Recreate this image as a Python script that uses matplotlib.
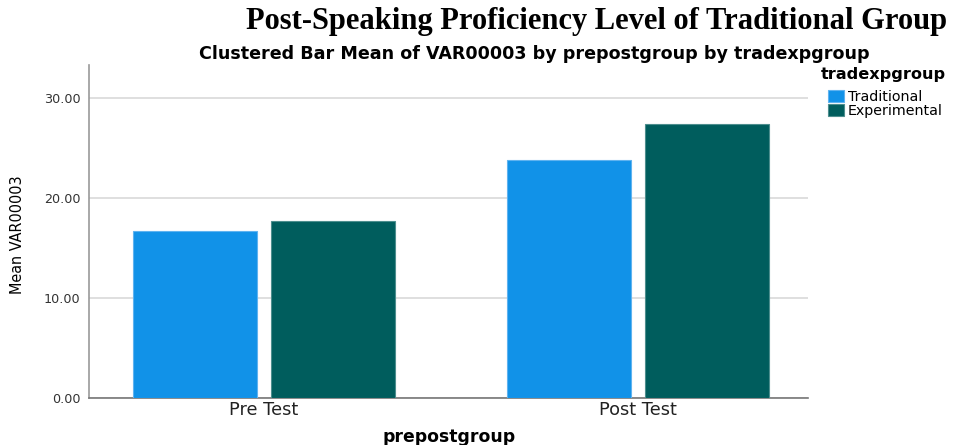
import matplotlib
matplotlib.use("Agg")
import matplotlib.pyplot as plt
from matplotlib.font_manager import FontProperties
import numpy as np

categories = ["Pre Test", "Post Test"]
groups = ["Traditional", "Experimental"]
traditional = [16.67, 23.83]
experimental = [17.73, 27.43]
yticks = [0, 10, 20, 30]
ytick_labels = ["0.00", "10.00", "20.00", "30.00"]

colors = ["#1192e8", "#005d5d"]
edges = ["#5fb3f0", "#4d8e8e"]

def fp(size, weight="normal", stretch="normal", family="DejaVu Sans"):
    return FontProperties(family=family, size=size, weight=weight, stretch=stretch, style="normal")

fig = plt.figure(figsize=(9.55, 4.45), dpi=100)
ax = fig.add_axes([89/955, 1-398/445, (808-89)/955, (398-65)/445])

x = np.arange(len(categories))
w = 0.3316
off = 0.1845
for i, (vals, c, e, lab) in enumerate(zip([traditional, experimental], colors, edges, groups)):
    ax.bar(x + (i*2-1)*off, vals, width=w, color=c, edgecolor=e, linewidth=0.8, label=lab, zorder=3)

ax.set_xlim(-0.468, 1.455)
ax.set_ylim(0, 33.3)
ax.set_yticks(yticks)
ax.set_yticklabels(ytick_labels, fontproperties=fp(9.2), color="#333333")
ax.set_xticks(x)
ax.set_xticklabels(categories, fontproperties=fp(12.8), color="#222222")
ax.tick_params(axis="both", length=0, pad=6)
ax.tick_params(axis="x", pad=2)
ax.yaxis.grid(True, color="#d9d9d9", linewidth=1.2, zorder=0)
ax.set_axisbelow(True)
for s in ["top", "right"]:
    ax.spines[s].set_visible(False)
ax.spines["left"].set_color("#999999")
ax.spines["bottom"].set_color("#777777")
ax.spines["left"].set_linewidth(1.2)
ax.spines["bottom"].set_linewidth(1.2)

fig.text(597/955, 1-22/445, "Post-Speaking Proficiency Level of Traditional Group",
         ha="center", va="center", fontproperties=fp(22, "bold", family="Liberation Serif"))
fig.text(534/955, 1-54/445, "Clustered Bar Mean of VAR00003 by prepostgroup by tradexpgroup",
         ha="center", va="center", fontproperties=fp(12.6, "bold"))
fig.text(17/955, 1-235/445, "Mean VAR00003", rotation=90, ha="center", va="center",
         fontproperties=fp(11.5, stretch="condensed"), color="#000000")
fig.text(449/955, 1-437/445, "prepostgroup", ha="center", va="center",
         fontproperties=fp(12.4, "bold"))

fig.text(821/955, 1-75/445, "tradexpgroup", ha="left", va="center",
         fontproperties=fp(11.6, "bold"))
leg = fig.legend(loc="upper left", bbox_to_anchor=(828/955, 1-90/445), frameon=False,
                 handlelength=1.1, handleheight=0.9, handletextpad=0.3,
                 labelspacing=0.0, borderaxespad=0, borderpad=0,
                 prop=fp(10.3))

fig.savefig("out.png", dpi=100)
